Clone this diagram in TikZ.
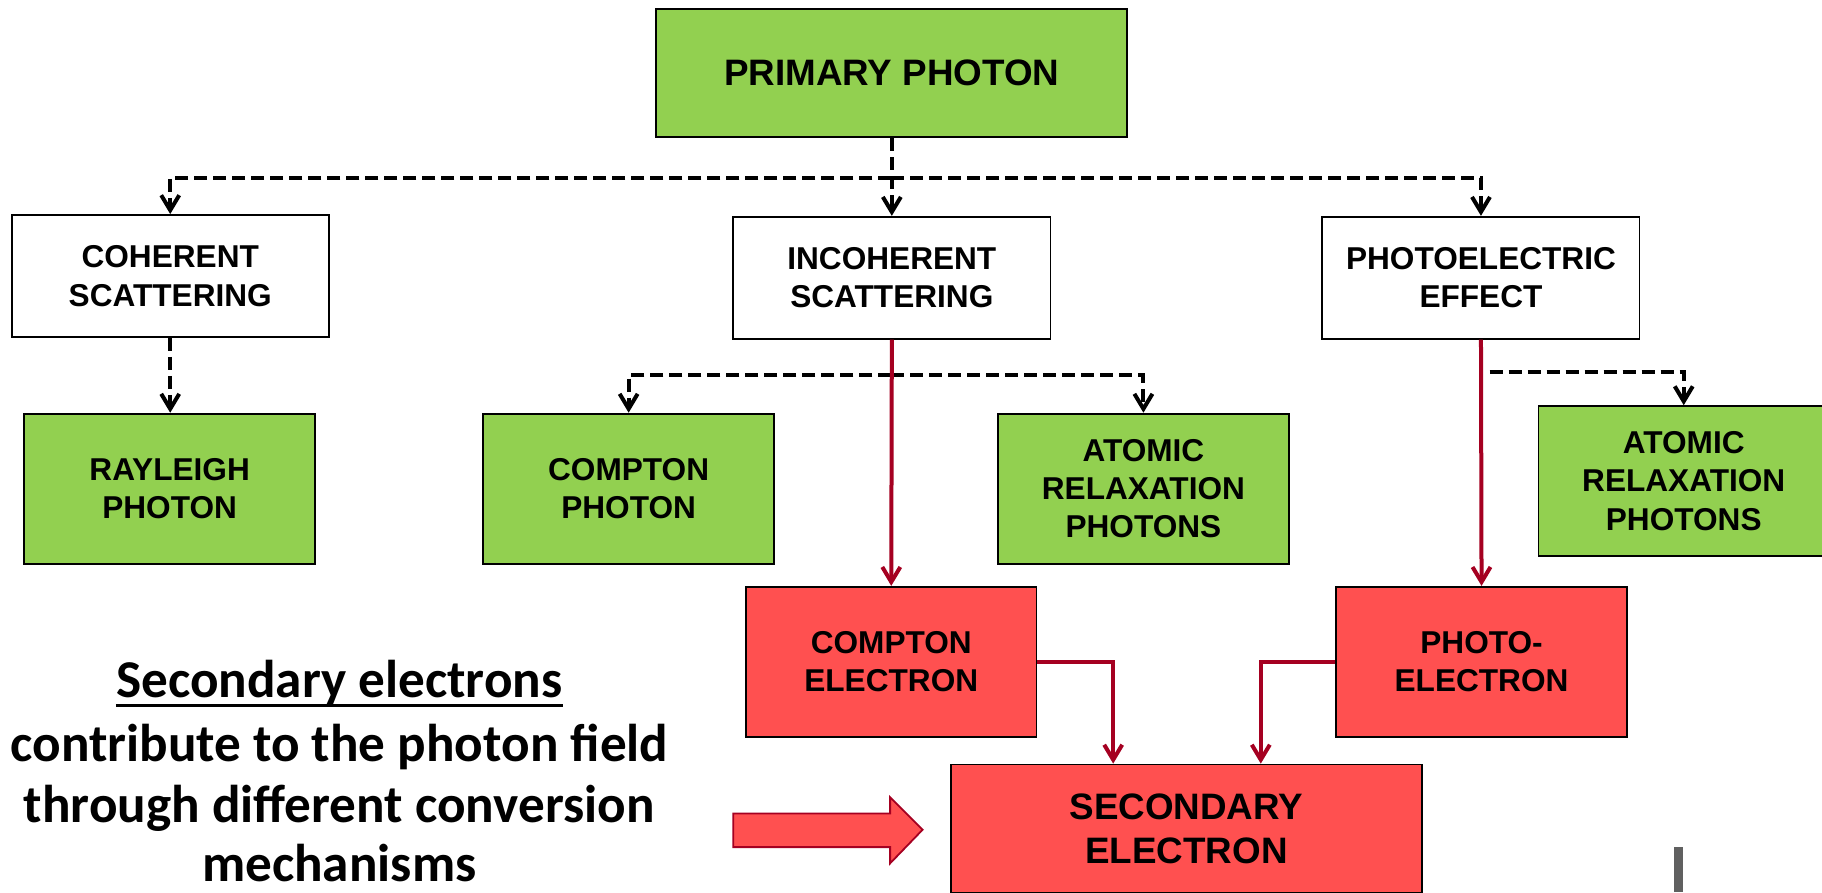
\documentclass[tikz,border=0pt]{standalone}
\usepackage{fontspec}
\setmainfont{Liberation Sans}
\newfontfamily\calibri{Carlito}
\usetikzlibrary{arrows.meta}
\definecolor{verde}{HTML}{92D050}
\definecolor{vermelho}{HTML}{FF5050}
\definecolor{vinho}{HTML}{A50021}
\definecolor{cinza}{HTML}{606060}
\tikzset{
  caixa/.style={draw=black,line width=0.9pt,align=center,inner sep=0pt,
    font=\fontsize{15.8}{19.2}\selectfont\bfseries},
  caixagrande/.style={caixa,minimum width=235.5pt,minimum height=64pt,
    font=\fontsize{18.4}{22}\selectfont\bfseries},
  branca/.style={caixa,fill=white,minimum width=158.6pt,minimum height=61pt},
  foton/.style={caixa,fill=verde,minimum width=145.3pt,minimum height=75pt},
  eletron/.style={caixa,fill=vermelho,minimum width=145.3pt,minimum height=75pt},
  tracejada/.style={-{Straight Barb[length=7.5pt,width=9pt]},line width=2pt,
    dash pattern=on 6.5pt off 3pt},
  setavinho/.style={-{Straight Barb[length=7.5pt,width=9pt]},line width=2pt,vinho},
  texto/.style={font=\calibri\bfseries\fontsize{26.6}{31}\selectfont,anchor=base,inner sep=0pt},
}
\begin{document}
\begin{tikzpicture}[x=0.581pt,y=-0.581pt]  %escala em px
\useasboundingbox (0,0) rectangle (1568,768);
	%Caixas
\node[caixagrande,fill=verde] (prim) at (767.5,63) {PRIMARY PHOTON};
\node[branca] (coer) at (146.5,237.5) {COHERENT\\SCATTERING};
\node[branca] (incoer) at (767.5,239) {INCOHERENT\\SCATTERING};
\node[branca] (fotoel) at (1274.5,239) {PHOTOELECTRIC\\EFFECT};
\node[foton] (rayl) at (146,420.5) {RAYLEIGH\\PHOTON};
\node[foton] (compf) at (541,420.5) {COMPTON\\PHOTON};
\node[foton] (atom1) at (984,420.5) {ATOMIC\\RELAXATION\\PHOTONS};
\node[foton] (atom2) at (1449,414) {ATOMIC\\RELAXATION\\PHOTONS};
\node[eletron] (compe) at (767,569.5) {COMPTON\\ELECTRON};
\node[eletron] (fotoe) at (1275,569.5) {PHOTO-\\ELECTRON};
\node[caixagrande,fill=vermelho] (sec) at (1021,713) {SECONDARY\\ELECTRON};
	%Setas tracejadas
\coordinate (div1) at (767,153);
\coordinate (div2) at (767,323);
\coordinate (div3) at (1282,320);
\draw[tracejada] (prim.south) -- (incoer.north);
\draw[tracejada] (div1) -| (coer.north);
\draw[tracejada] (div1) -| (fotoel.north);
\draw[tracejada] (coer.south) -- (coer.south |- rayl.north);
\draw[tracejada] (div2) -| (compf.north);
\draw[tracejada] (div2) -| (atom1.north);
\draw[tracejada] (div3) -| (atom2.north);
	%Setas dos eletrons
\draw[setavinho] (incoer.south) -- (compe.north);
\draw[setavinho] (fotoel.south) -- (fotoe.north);
\draw[setavinho] (compe.east) -| ([xshift=-36.6pt]sec.north);
\draw[setavinho] (fotoe.west) -| ([xshift=37.2pt]sec.north);
	%Texto da esquerda
\node[texto] (lin1) at (292,600) {Secondary electrons};
\node[texto] (lin2) at (292,655) {contribute to the photon field};
\node[texto] (lin3) at (292,708) {through different conversion};
\node[texto] (lin4) at (292,759) {mechanisms};
\draw[line width=1.3pt] ([yshift=-4pt]lin1.base west) -- ([yshift=-4pt]lin1.base east); %sublinhado
	%Seta grande
\filldraw[fill=vermelho,draw=vinho,line width=0.9pt] (631,700) -- (766,700) -- (766,686) -- (794,714)
  -- (766,743) -- (766,729) -- (631,729) -- cycle;
\fill[cinza] (1441,729) rectangle (1448,768); %barra cinza
\end{tikzpicture}
\end{document}
